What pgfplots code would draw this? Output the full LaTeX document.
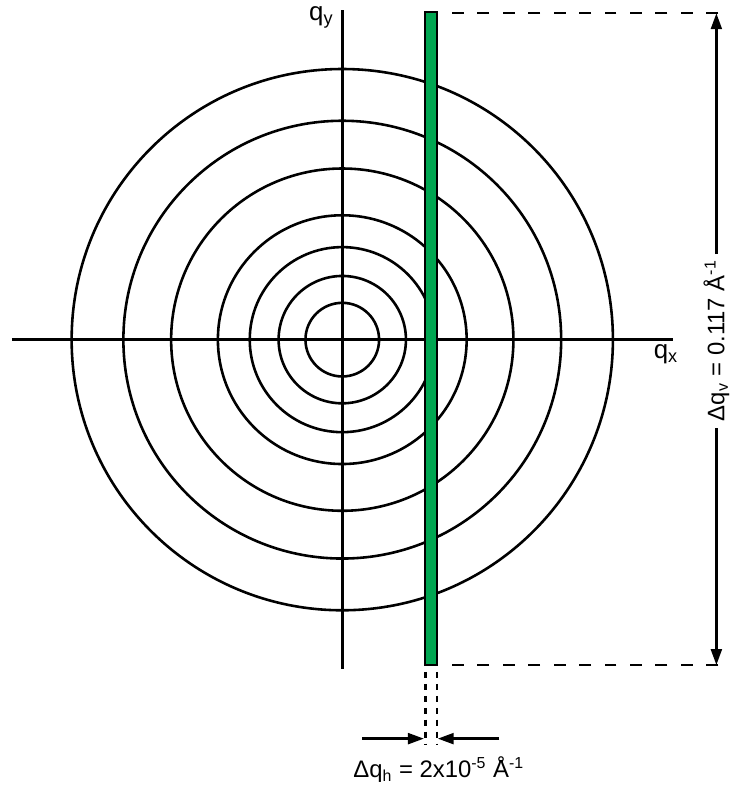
\documentclass[border=0pt]{standalone}
\usepackage{fontspec}
\setmainfont{Liberation Sans}
\usepackage{pgfplots}
\pgfplotsset{compat=1.18}
\usetikzlibrary{arrows.meta}
\definecolor{barg}{RGB}{0,166,81}
\begin{document}
\begin{tikzpicture}
\begin{axis}[
 width=366.5pt, height=394.5pt, scale only axis,
 xmin=0,xmax=733,ymin=0,ymax=789, y dir=reverse,
 axis lines=none, clip=false,
]
\path (rel axis cs:0,0) rectangle (rel axis cs:1,1);
\addplot[black, line width=1.3pt] coordinates {(12,341) (676,341)};
\addplot[black, line width=1.3pt] coordinates {(344,10) (344,672)};
\pgfplotsinvokeforeach{272,220,172,125,93,64,37}{
  \draw[line width=1.3pt] (axis cs:344,341) circle[radius=#1];
}
\addplot[fill=barg, draw=black, line width=1.1pt] coordinates {(427,12) (439,12) (439,668) (427,668)} -- cycle;
\addplot[black, line width=1.1pt, dash pattern=on 6pt off 6.8pt] coordinates {(722,13) (445,13)};
\addplot[black, line width=1.1pt, dash pattern=on 6pt off 6.8pt] coordinates {(722,668) (445,668)};
\addplot[black, line width=1.2pt, -{Triangle[length=8pt,width=5.5pt]}] coordinates {(720,255) (720,13)};
\addplot[black, line width=1.2pt, -{Triangle[length=8pt,width=5.5pt]}] coordinates {(720,430) (720,668)};
\addplot[black, line width=1.3pt, dash pattern=on 3pt off 3pt] coordinates {(427.5,675) (427.5,748)};
\addplot[black, line width=1.3pt, dash pattern=on 3pt off 3pt] coordinates {(439,675) (439,748)};
\addplot[black, line width=1.2pt, -{Triangle[length=8pt,width=5.5pt]}] coordinates {(364,742) (426,742)};
\addplot[black, line width=1.2pt, -{Triangle[length=8pt,width=5.5pt]}] coordinates {(502,742) (440,742)};
\node[rotate=90, font=\fontsize{12}{14}\selectfont] at (axis cs:720,342) {Δq\textsubscript{v} = 0.117 Å\textsuperscript{-1}};
\node[font=\fontsize{12}{14}\selectfont] at (axis cs:441,773) {Δq\textsubscript{h} = 2x10\textsuperscript{-5} Å\textsuperscript{-1}};
\node[font=\fontsize{13}{15}\selectfont] at (axis cs:323,17) {q\textsubscript{y}};
\node[font=\fontsize{13}{15}\selectfont, anchor=west] at (axis cs:650,356) {q\textsubscript{x}};
\end{axis}
\end{tikzpicture}
\end{document}
